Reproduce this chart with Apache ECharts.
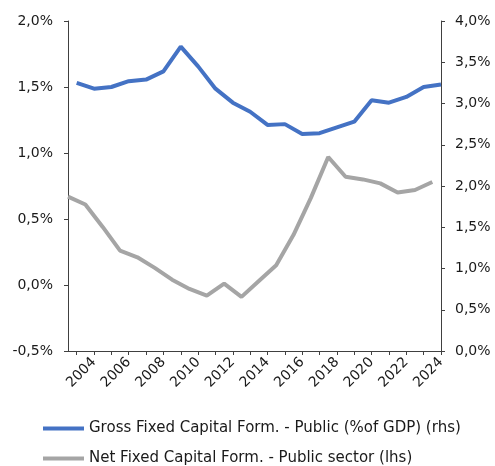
<!DOCTYPE html>
<html>
<head>
<meta charset="utf-8">
<script src="https://cdn.jsdelivr.net/npm/echarts@6/dist/echarts.min.js"></script>
<style>
  html, body { margin: 0; padding: 0; background: #fff; }
  #chart { width: 495px; height: 466px; }
</style>
</head>
<body>
<div id="chart"></div>
<script>
var years = [2003, 2004, 2005, 2006, 2007, 2008, 2009, 2010, 2011, 2012, 2013,
    2014, 2015, 2016, 2017, 2018, 2019, 2020, 2021, 2022, 2023, 2024];
var labelYears = [2004, 2006, 2008, 2010, 2012, 2014, 2016, 2018, 2020, 2022, 2024];

// Gross Fixed Capital Form. - Public (% of GDP), right axis
var grossPublic = [3.25, 3.18, 3.20, 3.27, 3.29, 3.39, 3.69, 3.45, 3.18, 3.01, 2.90,
    2.74, 2.75, 2.63, 2.64, 2.71, 2.78, 3.04, 3.01, 3.08, 3.20, 3.23];
// Net Fixed Capital Form. - Public sector, left axis (plotted half a year earlier)
var netPublic = [0.67, 0.61, 0.44, 0.26, 0.21, 0.13, 0.04, -0.03, -0.08, 0.01, -0.09,
    0.03, 0.15, 0.38, 0.66, 0.97, 0.82, 0.80, 0.77, 0.70, 0.72, 0.78];

var grossName = 'Gross Fixed Capital Form. - Public (%of GDP) (rhs)';
var netName = 'Net Fixed Capital Form. - Public sector (lhs)';

var fmt = function(v) {
    return v.toFixed(1).replace('.', ',') + '%';
};
var txt = '#1a1a1a';
var axisCol = '#404040';
var font = 'DejaVu Sans, Liberation Sans, sans-serif';

// one legend per row, like the original stacked legend
var legendRow = function(name, top) {
    return {
        orient: 'vertical',
        left: 38,
        top: top,
        icon: 'rect',
        itemWidth: 41,
        itemHeight: 4,
        textStyle: { fontSize: 15, lineHeight: 17, color: txt, fontFamily: font },
        data: [name]
    };
};

var chart = echarts.init(document.getElementById('chart'));

var option = {
    animation: false,
    textStyle: { fontFamily: font },
    grid: { left: 68, right: 54, top: 21, bottom: 115 },
    legend: [legendRow(grossName, 415), legendRow(netName, 445)],
    xAxis: {
        type: 'value',
        min: 2002.5,
        max: 2024,
        splitLine: { show: false },
        axisLine: { show: true, onZero: false, lineStyle: { color: axisCol } },
        axisTick: { show: true, length: 4, customValues: years, lineStyle: { color: axisCol } },
        axisLabel: {
            customValues: labelYears,
            rotate: 45,
            margin: 9,
            fontSize: 14,
            color: txt,
            formatter: function(v) { return String(v); }
        }
    },
    yAxis: [
        {
            type: 'value',
            min: -0.5,
            max: 2.0,
            interval: 0.5,
            splitLine: { show: false },
            axisLine: { show: true, lineStyle: { color: axisCol } },
            axisTick: { show: true, length: 4, lineStyle: { color: axisCol } },
            axisLabel: { fontSize: 14, color: txt, margin: 15, formatter: fmt }
        },
        {
            type: 'value',
            min: 0,
            max: 4,
            interval: 0.5,
            position: 'right',
            splitLine: { show: false },
            axisLine: { show: true, lineStyle: { color: axisCol } },
            axisTick: { show: true, length: 4, lineStyle: { color: axisCol } },
            axisLabel: { fontSize: 14, color: txt, margin: 14, formatter: fmt }
        }
    ],
    series: [
        {
            name: grossName,
            type: 'line',
            yAxisIndex: 1,
            showSymbol: false,
            color: '#4472C4',
            lineStyle: { width: 4, color: '#4472C4' },
            data: years.map(function(y, i) { return [y, grossPublic[i]]; })
        },
        {
            name: netName,
            type: 'line',
            yAxisIndex: 0,
            showSymbol: false,
            color: '#A5A5A5',
            lineStyle: { width: 4, color: '#A5A5A5' },
            data: years.map(function(y, i) { return [y - 0.5, netPublic[i]]; })
        }
    ]
};

chart.setOption(option);
</script>
</body>
</html>
